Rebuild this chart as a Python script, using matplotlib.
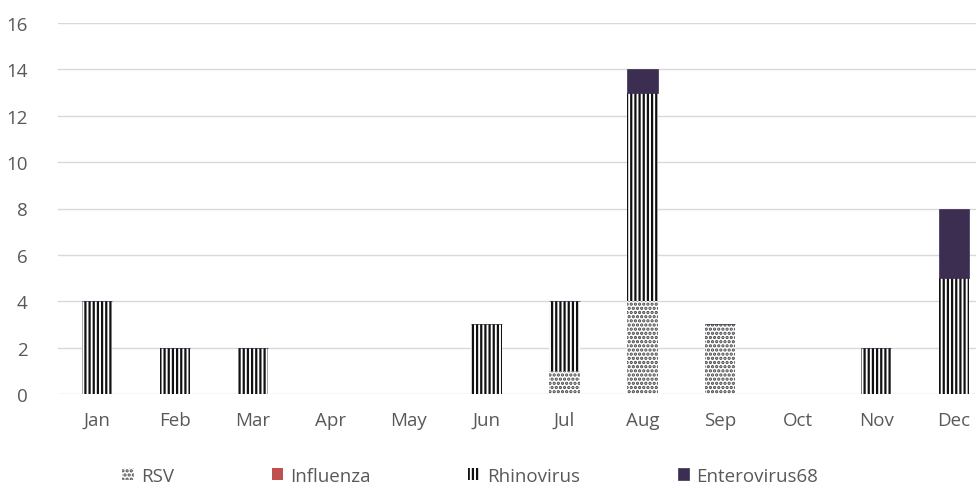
import matplotlib
matplotlib.use("Agg")
import matplotlib.pyplot as plt
import numpy as np

months = ["Jan", "Feb", "Mar", "Apr", "May", "Jun", "Jul", "Aug", "Sep", "Oct", "Nov", "Dec"]
rsv = [0, 0, 0, 0, 0, 0, 1, 4, 3, 0, 0, 0]
influenza = [0, 0, 0, 0, 0, 0, 0, 0, 0, 0, 0, 0]
rhinovirus = [4, 2, 2, 0, 0, 3, 3, 9, 0, 0, 2, 5]
enterovirus68 = [0, 0, 0, 0, 0, 0, 0, 1, 0, 0, 0, 3]
yticks = [0, 2, 4, 6, 8, 10, 12, 14, 16]

plt.rcParams['font.family'] = ['Open Sans', 'DejaVu Sans']
plt.rcParams['hatch.linewidth'] = 1.6

fig = plt.figure(figsize=(9.76, 4.85), dpi=100)
ax = fig.add_axes([58/976, 1 - 395/485, 935/976, (395 - 24)/485])

x = np.arange(len(months))
w = 0.39
txt = "#595959"

b0 = np.zeros(len(months))
h1 = ax.bar(x, rsv, w, bottom=b0, color="white", edgecolor="#444444", hatch="....", linewidth=0, label="RSV", zorder=3)
b0 = b0 + np.array(rsv)
h2 = ax.bar(x, influenza, w, bottom=b0, color="#C0504D", linewidth=0, label="Influenza", zorder=3)
b0 = b0 + np.array(influenza)
h3 = ax.bar(x, rhinovirus, w, bottom=b0, color="white", edgecolor="#111111", hatch="||||", linewidth=0, label="Rhinovirus", zorder=3)
b0 = b0 + np.array(rhinovirus)
h4 = ax.bar(x, enterovirus68, w, bottom=b0, color="#3B2E50", edgecolor="#3B2E50", linewidth=0.5, label="Enterovirus68", zorder=3)

ax.set_xlim(-0.5, len(months) - 0.5)
ax.set_ylim(0, 16)
ax.set_yticks(yticks)
ax.set_xticks(x)
ax.set_xticklabels(months)
ax.tick_params(axis="both", length=0, labelsize=13.5, colors=txt)
ax.tick_params(axis="y", pad=22)
ax.tick_params(axis="x", pad=12)
for s in ax.spines.values():
    s.set_visible(False)
ax.yaxis.grid(True, color="#D9D9D9", linewidth=1, zorder=0)
ax.set_axisbelow(True)

leg = fig.legend(handles=[h1, h2, h3, h4], loc="center", bbox_to_anchor=(0.482, 1 - 477/485),
                 ncol=4, frameon=False, fontsize=13.5, handlelength=0.6, handleheight=0.6,
                 handletextpad=0.4, columnspacing=5.2)
for t in leg.get_texts():
    t.set_color(txt)

fig.savefig("out.png", dpi=100)
